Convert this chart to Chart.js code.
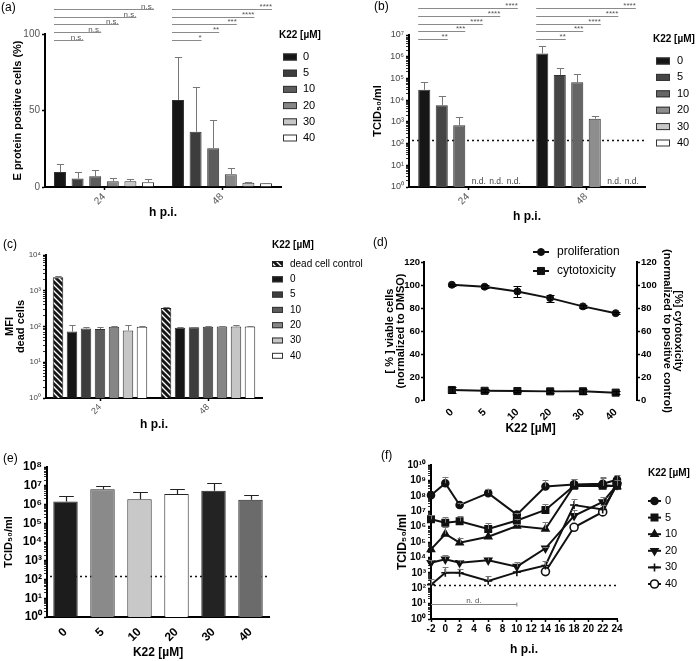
<!DOCTYPE html>
<html>
<head>
<meta charset="utf-8">
<script src="https://cdn.jsdelivr.net/npm/chart.js@4.4.1/dist/chart.umd.min.js"></script>
<style>
body { margin: 0; background: #fff; }
#wrap { position: relative; width: 696px; height: 661px; overflow: hidden; }
canvas { position: absolute; }
</style>
</head>
<body>
<div id="wrap">
<canvas id="ca" width="348" height="225" style="left:0;top:0"></canvas>
<canvas id="cb" width="348" height="225" style="left:348px;top:0"></canvas>
<canvas id="cc" width="370" height="215" style="left:0;top:225px"></canvas>
<canvas id="cd" width="348" height="215" style="left:348px;top:225px"></canvas>
<canvas id="ce" width="348" height="221" style="left:0;top:440px"></canvas>
<canvas id="cf" width="348" height="221" style="left:348px;top:440px"></canvas>
</div>
<script>
// categories
const doses = ['0', '5', '10', '20', '30', '40'];
const hpi = ['24', '48'];
const hours = [-2, 0, 2, 6, 10, 14, 18, 22, 24];
const hourTicks = [-2, 0, 2, 4, 6, 8, 10, 12, 14, 16, 18, 20, 22, 24];

// (a) E protein positive cells (%)
const ePos24 = [9.8, 5.5, 7.0, 3.7, 3.7, 3.1];
const ePos48 = [56.9, 36.1, 25.4, 8.3, 2.8, 2.4];
const ePosErr24 = [15.3, 9.8, 10.9, 6.1, 5.5, 5.0];
const ePosErr48 = [84.7, 65.2, 43.8, 12.7, 3.5, 2.8];
const sigA24 = ['n.s.', 'n.s.', 'n.s.', 'n.s.', 'n.s.'];
const sigA48 = ['*', '**', '***', '****', '****'];

// (b) TCID50/ml
const tcid24 = [3.0e4, 5.8e3, 7.0e2, null, null, null];
const tcid48 = [1.4e6, 1.45e5, 6.7e4, 1.4e3, null, null];
const tcidErr24 = [7.0e4, 1.5e4, 1.6e3, null, null, null];
const tcidErr48 = [3.2e6, 2.9e5, 1.55e5, 1.8e3, null, null];
const sigB24 = ['**', '***', '****', '****', '****'];
const sigB48 = ['**', '***', '****', '****', '****'];
const detectionLimit = 150;

// (c) MFI dead cells
const ctrlMfi = [2400, 330];
const ctrlMfiErr = [2650, 360];
const mfi24 = [72, 88, 85, 98, 77, 98];
const mfi48 = [93, 95, 98, 100, 100, 100];
const mfiErr24 = [112, 96, 95, 105, 110, 103];
const mfiErr48 = [97, 100, 103, 106, 107, 103];

// (d) viability / cytotoxicity
const prolif = [100.2, 98.5, 94.4, 88.6, 81.4, 75.5];
const prolifErr = [0.8, 1.2, 5.0, 3.0, 1.2, 1.0];
const cyto = [8.7, 8.0, 7.8, 7.5, 7.6, 6.4];
const cytoErr = [2.3, 1.2, 1.2, 1.2, 2.0, 1.2];

// (e) pre-treatment TCID50/ml
const tcidPre = [1.45e6, 6.6e6, 1.9e6, 3.6e6, 5.4e6, 1.8e6];
const tcidPreErr = [2.7e6, 9.6e6, 4.4e6, 6.6e6, 1.4e7, 3.3e6];

// (f) kinetics, TCID50/ml per dose
const kin0 = [1.1e8, 6.5e8, 2.5e7, 1.5e8, 6.0e6, 4.0e8, 5.5e8, 6.0e8, 1.1e9];
const kin5 = [3.0e6, 1.8e6, 2.2e6, 7.0e5, 2.5e6, 1.2e7, 4.5e8, 4.4e8, 4.5e8];
const kin10 = [3.3e4, 3.3e5, 9.0e4, 2.2e5, 1.1e6, 7.0e5, 4.5e8, 5.0e8, 4.0e8];
const kin20 = [4.5e3, 7.5e3, 4.5e3, 6.5e3, 2.5e3, 3.9e4, 5.0e6, 4.0e7, 5.0e8];
const kin30 = [170, 1.0e3, 1.0e3, 3.0e2, 1.1e3, 3.0e3, 2.5e7, 1.3e7, 5.0e8];
const kin40 = [null, null, null, null, null, 1.2e3, 9.0e5, 9.0e6, 6.0e8];
const kinErr0 = [null, 1.7e9, 3.2e7, 2.8e8, 7.5e6, 1.1e9, 1.3e9, 1.5e9, 2.4e9];
const kinErr5 = [6.0e6, 4.0e6, 5.0e6, 1.6e6, 3.0e6, 3.0e7, 1.2e9, 1.6e9, 1.0e9];
const kinErr10 = [null, 9.0e5, 1.7e5, null, 1.4e6, 2.0e6, null, null, null];
const kinErr20 = [7.0e3, 1.4e4, 7.0e3, 1.1e4, 5.0e3, 5.0e4, 1.2e7, 9.0e7, null];
const kinErr30 = [400, 2.5e3, 1.8e3, 6.0e2, null, 6.0e3, 6.0e7, 2.5e7, null];
const kinErr40 = [null, null, null, null, null, null, null, null, null];

Chart.defaults.font.family = "'Liberation Sans', Arial, sans-serif";
Chart.defaults.color = '#000';
Chart.defaults.animation = false;
Chart.defaults.plugins.legend.display = false;
Chart.defaults.plugins.tooltip.enabled = false;

const SUP = {'0': '⁰', '1': '¹', '2': '²', '3': '³', '4': '⁴', '5': '⁵', '6': '⁶', '7': '⁷', '8': '⁸', '9': '⁹'};
const isDecade = v => Math.abs(Math.log10(v) - Math.round(Math.log10(v))) < 1e-6;
const pow10Label = v => isDecade(v) ? '10' + String(Math.round(Math.log10(v))).split('').map(c => SUP[c]).join('') : '';
function logTicks(maxExp) {
  const t = [];
  for (let e = 0; e < maxExp; e++)
    for (let k = 1; k < 10; k++) t.push({value: k * Math.pow(10, e)});
  t.push({value: Math.pow(10, maxExp)});
  return t;
}

// error bars (upper, optional lower) drawn from dataset.errHi / errLo
const errorBars = {
  id: 'errorBars',
  afterDatasetsDraw(chart) {
    const ctx = chart.ctx;
    chart.data.datasets.forEach((ds, i) => {
      if (!ds.errHi) return;
      const meta = chart.getDatasetMeta(i);
      const ys = chart.scales[meta.yAxisID];
      ctx.save();
      ctx.strokeStyle = ds.errColor || '#000';
      ctx.lineWidth = ds.errWidth || 1;
      meta.data.forEach((el, j) => {
        const v = ds.data[j];
        const val = (v !== null && typeof v === 'object') ? v.y : v;
        if (val == null) return;
        const cap = el.width ? el.width * 0.3 : (ds.capHalf || 3);
        [ds.errHi[j], ds.errLo ? ds.errLo[j] : null].forEach(e => {
          if (e == null) return;
          const y = Math.round(ys.getPixelForValue(e)) + 0.5;
          const x = Math.round(el.x) + 0.5;
          ctx.beginPath();
          ctx.moveTo(x, el.y); ctx.lineTo(x, y);
          ctx.moveTo(x - cap, y); ctx.lineTo(x + cap, y);
          ctx.stroke();
        });
      });
      ctx.restore();
    });
  }
};

// dotted detection limit
const refLine = {
  id: 'refLine',
  beforeDatasetsDraw(chart, args, o) {
    if (!o || o.value == null) return;
    const ctx = chart.ctx, a = chart.chartArea;
    const y = Math.round(chart.scales.y.getPixelForValue(o.value)) + 0.5;
    ctx.save();
    ctx.strokeStyle = '#111';
    ctx.lineWidth = 1.5;
    ctx.setLineDash([2, 3]);
    ctx.beginPath(); ctx.moveTo(a.left + 3, y); ctx.lineTo(a.right, y); ctx.stroke();
    ctx.restore();
  }
};

// significance brackets from first bar of a group to bar k
const sigLines = {
  id: 'sigLines',
  afterDraw(chart, args, o) {
    if (!o || !o.sets) return;
    const ctx = chart.ctx;
    ctx.save();
    ctx.lineWidth = 1;
    ctx.font = '8px "Liberation Sans", Arial';
    ctx.textAlign = 'right';
    ctx.textBaseline = 'bottom';
    o.sets.forEach(set => {
      const first = chart.getDatasetMeta(0).data[set.group];
      const x0 = first.x - first.width / 2;
      set.labels.forEach((lab, k) => {
        const el = chart.getDatasetMeta(k + 1).data[set.group];
        const x1 = el.x + el.width / 2;
        const y = Math.round(o.y0 - k * o.step) + 0.5;
        ctx.strokeStyle = '#8a8a8a';
        ctx.beginPath(); ctx.moveTo(x0, y); ctx.lineTo(x1, y); ctx.stroke();
        ctx.fillStyle = '#555';
        ctx.fillText(lab, x1, y + 1);
      });
    });
    ctx.restore();
  }
};

// "n.d." under missing bars
const ndLabels = {
  id: 'ndLabels',
  afterDraw(chart, args, o) {
    if (!o || !o.text) return;
    const ctx = chart.ctx;
    ctx.save();
    ctx.font = '8.5px "Liberation Sans", Arial';
    ctx.fillStyle = '#444';
    ctx.textAlign = 'center';
    ctx.textBaseline = 'middle';
    chart.data.datasets.forEach((ds, i) => {
      const meta = chart.getDatasetMeta(i);
      ds.data.forEach((v, j) => {
        if (v != null) return;
        const el = meta.data[j];
        ctx.fillText(o.text, el.x + 2, chart.chartArea.bottom - 5);
      });
    });
    ctx.restore();
  }
};

// n.d. range bracket (panel f)
const ndRange = {
  id: 'ndRange',
  afterDraw(chart, args, o) {
    if (!o || o.from == null) return;
    const ctx = chart.ctx, xs = chart.scales.x, ys = chart.scales.y;
    const x0 = xs.getPixelForValue(o.from), x1 = xs.getPixelForValue(o.to);
    const y = Math.round(ys.getPixelForValue(o.value)) + 0.5;
    ctx.save();
    ctx.strokeStyle = '#888';
    ctx.lineWidth = 1;
    ctx.beginPath();
    ctx.moveTo(x0, y); ctx.lineTo(x1, y);
    ctx.moveTo(x1, y - 2); ctx.lineTo(x1, y + 2);
    ctx.stroke();
    ctx.fillStyle = '#555';
    ctx.font = '8px "Liberation Sans", Arial';
    ctx.textAlign = 'center';
    ctx.textBaseline = 'bottom';
    ctx.fillText(o.text, xs.getPixelForValue((o.from + o.to) / 2), y);
    ctx.restore();
  }
};

// legend at a fixed spot beside the plot
const sideLegend = {
  id: 'sideLegend',
  afterDraw(chart, args, o) {
    if (!o || o.x == null) return;
    const ctx = chart.ctx;
    ctx.save();
    ctx.textBaseline = 'middle';
    ctx.textAlign = 'left';
    ctx.fillStyle = '#000';
    if (o.title) {
      ctx.font = o.titleFont;
      ctx.fillText(o.title, o.titleX != null ? o.titleX : o.x, o.titleY);
    }
    ctx.font = o.font;
    chart.data.datasets.forEach((ds, i) => {
      const y = o.y + i * o.step;
      if (o.kind === 'line') {
        ctx.strokeStyle = '#111';
        ctx.lineWidth = 2;
        ctx.beginPath(); ctx.moveTo(o.x, y); ctx.lineTo(o.x + o.w, y); ctx.stroke();
        ctx.fillStyle = ds.pointBackgroundColor;
        ctx.strokeStyle = ds.pointBorderColor;
        ctx.lineWidth = ds.pointBorderWidth;
        Chart.helpers.drawPoint(ctx, {pointStyle: ds.pointStyle, rotation: ds.pointRotation || 0,
          radius: ds.pointRadius, borderWidth: ds.pointBorderWidth}, o.x + o.w / 2, y);
      } else {
        ctx.fillStyle = ds.backgroundColor;
        ctx.fillRect(o.x, y - o.h / 2, o.w, o.h);
        ctx.strokeStyle = ds.borderColor;
        ctx.lineWidth = 1;
        ctx.strokeRect(o.x + 0.5, y - o.h / 2 + 0.5, o.w - 1, o.h - 1);
      }
      ctx.fillStyle = '#000';
      ctx.fillText(ds.label, o.textX, y);
    });
    ctx.restore();
  }
};

// panel letter
const tag = {
  id: 'tag',
  afterDraw(chart, args, o) {
    if (!o || !o.text) return;
    const ctx = chart.ctx;
    ctx.save();
    ctx.font = '12px "Liberation Sans", Arial';
    ctx.fillStyle = '#000';
    ctx.textBaseline = 'middle';
    ctx.fillText(o.text, o.x, o.y);
    ctx.restore();
  }
};

Chart.register(errorBars, refLine, sigLines, ndLabels, ndRange, sideLegend, tag);

function axisBase(extra) {
  return Object.assign({
    grid: {drawOnChartArea: false, tickLength: 3, tickColor: '#000', tickWidth: 1.5},
    border: {color: '#000', width: 2}
  }, extra);
}
function yLog(maxExp, w, tickFont, tickColor, title) {
  return {
    type: 'logarithmic', min: 1, max: Math.pow(10, maxExp),
    afterBuildTicks: s => { s.ticks = logTicks(maxExp); },
    afterFit: s => { s.width = w; },
    ticks: {autoSkip: false, callback: v => pow10Label(v), font: tickFont, color: tickColor, padding: 2},
    grid: {drawOnChartArea: false, tickLength: 3, tickColor: '#000',
      tickWidth: c => (c.tick && isDecade(c.tick.value)) ? 1.5 : 0.8},
    border: {color: '#000', width: 2},
    title: title
  };
}

const grayA = ['#161616', '#3d3d3d', '#5c5c5c', '#868686', '#c6c6c6', '#ffffff'];
const grayB = ['#161616', '#454545', '#666666', '#8e8e8e', '#c8c8c8', '#ffffff'];
const bold = s => ({size: s, weight: 'bold'});

// ---------- (a)
new Chart('ca', {
  type: 'bar',
  data: {
    labels: hpi,
    datasets: doses.map((d, i) => ({
      label: d, data: [ePos24[i], ePos48[i]], errHi: [ePosErr24[i], ePosErr48[i]],
      backgroundColor: grayA[i], borderColor: '#333', borderWidth: 1, errColor: '#777',
      categoryPercentage: 0.895, barPercentage: 0.68
    }))
  },
  options: {
    responsive: false,
    layout: {padding: {left: 0, right: 67, top: 34, bottom: 0}},
    plugins: {
      tag: {text: '(a)', x: 1, y: 8},
      sigLines: {y0: 40, step: 7.8, sets: [{group: 0, labels: sigA24}, {group: 1, labels: sigA48}]},
      sideLegend: {x: 283, y: 57, step: 16.2, w: 14, h: 7, textX: 303, title: 'K22 [µM]', titleX: 279, titleY: 35,
        titleFont: 'bold 10px "Liberation Sans", Arial', font: '11px "Liberation Sans", Arial'}
    },
    scales: {
      x: axisBase({
        afterFit: s => { s.height = 38; },
        grid: {offset: false, drawOnChartArea: false, tickLength: 3, tickColor: '#000', tickWidth: 1.5},
        ticks: {minRotation: 45, maxRotation: 45, font: {size: 10}, color: '#555', padding: 1},
        title: {display: true, text: 'h p.i.', font: bold(12), padding: {top: 0, bottom: 5}}
      }),
      y: axisBase({
        min: 0, max: 100,
        afterBuildTicks: s => { s.ticks = [0, 50, 100].map(v => ({value: v})); },
        afterFit: s => { s.width = 45; },
        ticks: {font: {size: 10}, color: '#555', padding: 2},
        title: {display: true, text: 'E protein positive cells (%)', font: bold(11), padding: {top: 11, bottom: 0}}
      })
    }
  }
});

// ---------- (b)
new Chart('cb', {
  type: 'bar',
  data: {
    labels: hpi,
    datasets: doses.map((d, i) => ({
      label: d, data: [tcid24[i], tcid48[i]], errHi: [tcidErr24[i], tcidErr48[i]],
      backgroundColor: grayB[i], borderColor: '#333', borderWidth: 1, errColor: '#777',
      categoryPercentage: 0.89, barPercentage: 0.69
    }))
  },
  options: {
    responsive: false,
    layout: {padding: {left: 0, right: 51, top: 35, bottom: 0}},
    plugins: {
      tag: {text: '(b)', x: 26, y: 7},
      refLine: {value: detectionLimit},
      ndLabels: {text: 'n.d.'},
      sigLines: {y0: 39, step: 7.75, sets: [{group: 0, labels: sigB24}, {group: 1, labels: sigB48}]},
      sideLegend: {x: 308, y: 61, step: 16.4, w: 14, h: 7, textX: 329, title: 'K22 [µM]', titleX: 305, titleY: 39,
        titleFont: 'bold 10px "Liberation Sans", Arial', font: '11px "Liberation Sans", Arial'}
    },
    scales: {
      x: axisBase({
        afterFit: s => { s.height = 38; },
        grid: {offset: false, drawOnChartArea: false, tickLength: 3, tickColor: '#000', tickWidth: 1.5},
        ticks: {minRotation: 45, maxRotation: 45, font: {size: 10}, color: '#555', padding: 1},
        title: {display: true, text: 'h p.i.', font: bold(12), padding: {top: 0, bottom: 1}}
      }),
      y: yLog(7, 61, {size: 9}, '#444',
        {display: true, text: 'TCID₅₀/ml', font: bold(11), padding: {top: 23, bottom: 0}})
    }
  }
});

// ---------- (c)
const hatchTile = document.createElement('canvas');
hatchTile.width = hatchTile.height = 6;
(g => {
  g.fillStyle = '#161616'; g.fillRect(0, 0, 6, 6);
  g.strokeStyle = '#fff'; g.lineWidth = 1.3;
  g.beginPath();
  g.moveTo(0, 0); g.lineTo(6, 6);
  g.moveTo(-3, 3); g.lineTo(3, 9);
  g.moveTo(3, -3); g.lineTo(9, 3);
  g.stroke();
})(hatchTile.getContext('2d'));
const hatch = document.getElementById('cc').getContext('2d').createPattern(hatchTile, 'repeat');

new Chart('cc', {
  type: 'bar',
  data: {
    labels: hpi,
    datasets: [{
      label: 'dead cell control', data: ctrlMfi, errHi: ctrlMfiErr,
      backgroundColor: hatch, borderColor: '#222', borderWidth: 1, errColor: '#777',
      categoryPercentage: 0.907, barPercentage: 0.75
    }].concat(doses.map((d, i) => ({
      label: d, data: [mfi24[i], mfi48[i]], errHi: [mfiErr24[i], mfiErr48[i]],
      backgroundColor: grayA[i], borderColor: '#333', borderWidth: 1, errColor: '#777',
      categoryPercentage: 0.907, barPercentage: 0.75
    })))
  },
  options: {
    responsive: false,
    layout: {padding: {left: 0, right: 108, top: 30, bottom: 0}},
    plugins: {
      tag: {text: '(c)', x: 3, y: 20},
      sideLegend: {x: 272, y: 39, step: 15.3, w: 11, h: 6, textX: 290, title: 'K22 [µM]', titleY: 20,
        titleFont: 'bold 10px "Liberation Sans", Arial', font: '10px "Liberation Sans", Arial'}
    },
    scales: {
      x: axisBase({
        afterFit: s => { s.height = 42; },
        grid: {offset: false, drawOnChartArea: false, tickLength: 3, tickColor: '#000', tickWidth: 1.5},
        ticks: {minRotation: 45, maxRotation: 45, font: {size: 9}, color: '#555', padding: 1},
        title: {display: true, text: 'h p.i.', font: bold(12), padding: {top: 0, bottom: 8}}
      }),
      y: yLog(4, 46, {size: 8}, '#444',
        {display: true, text: ['MFI', 'dead cells'], font: {size: 11, weight: 'bold', lineHeight: 1.0}, padding: {top: 4, bottom: 0}})
    }
  }
});

// ---------- (d)
new Chart('cd', {
  type: 'line',
  data: {
    datasets: [{
      label: 'proliferation', data: prolif.map((v, i) => ({x: i, y: v})),
      errHi: prolif.map((v, i) => v + prolifErr[i]), errLo: prolif.map((v, i) => v - prolifErr[i]), capHalf: 4,
      borderColor: '#111', borderWidth: 2, pointStyle: 'circle', pointRadius: 3.5,
      pointBackgroundColor: '#111', pointBorderColor: '#111', pointBorderWidth: 1, clip: false
    }, {
      label: 'cytotoxicity', data: cyto.map((v, i) => ({x: i, y: v})),
      errHi: cyto.map((v, i) => v + cytoErr[i]), errLo: cyto.map((v, i) => v - cytoErr[i]), capHalf: 4,
      borderColor: '#111', borderWidth: 2, pointStyle: 'rect', pointRadius: 5,
      pointBackgroundColor: '#111', pointBorderColor: '#111', pointBorderWidth: 1, clip: false
    }]
  },
  options: {
    responsive: false,
    layout: {padding: {left: 0, right: 0, top: 37, bottom: 0}},
    plugins: {
      tag: {text: '(d)', x: 25, y: 18},
      sideLegend: {kind: 'line', x: 185, y: 27, step: 19, w: 16, textX: 209,
        font: '12px "Liberation Sans", Arial'}
    },
    scales: {
      x: {
        type: 'linear', min: -0.85, max: 5.65,
        afterBuildTicks: s => { s.ticks = doses.map((d, i) => ({value: i})); },
        afterFit: s => { s.height = 40; },
        grid: {display: false, drawTicks: false},
        border: {display: false},
        ticks: {autoSkip: false, minRotation: 45, maxRotation: 45, font: bold(10.5), padding: 6, callback: v => doses[v]},
        title: {display: true, text: 'K22 [µM]', font: bold(12), padding: {top: 0, bottom: 4}}
      },
      y: axisBase({
        min: 0, max: 120,
        afterBuildTicks: s => { s.ticks = [0, 20, 40, 60, 80, 100, 120].map(v => ({value: v})); },
        afterFit: s => { s.width = 76; },
        ticks: {font: bold(9.5), padding: 1},
        title: {display: true, text: ['[ % ] viable cells', '(normalized to DMSO)'],
          font: {size: 11, weight: 'bold', lineHeight: 1.05}, padding: {top: 36, bottom: 0}}
      }),
      y1: axisBase({
        position: 'right', min: 0, max: 120,
        afterBuildTicks: s => { s.ticks = [0, 20, 40, 60, 80, 100, 120].map(v => ({value: v})); },
        afterFit: s => { s.width = 59; },
        ticks: {font: bold(9.5), padding: 1},
        title: {display: true, text: ['[%] cytotoxicity', '(normalized to positive control)'],
          font: {size: 11, weight: 'bold', lineHeight: 1.05}, padding: {top: 12, bottom: 0}}
      })
    }
  }
});

// ---------- (e)
const preColors = ['#1c1c1c', '#8a8a8a', '#c8c8c8', '#ffffff', '#232323', '#6b6b6b'];
new Chart('ce', {
  type: 'bar',
  data: {
    labels: doses,
    datasets: [{
      label: 'TCID50/ml', data: tcidPre, errHi: tcidPreErr,
      backgroundColor: preColors, borderColor: '#222', borderWidth: 1, errColor: '#222', errWidth: 1.2,
      categoryPercentage: 1, barPercentage: 0.66
    }]
  },
  options: {
    responsive: false,
    layout: {padding: {left: 0, right: 79, top: 27, bottom: 0}},
    plugins: {
      tag: {text: '(e)', x: 3, y: 19},
      refLine: {value: detectionLimit}
    },
    scales: {
      x: axisBase({
        afterFit: s => { s.height = 44; },
        grid: {display: false, drawTicks: false},
        ticks: {minRotation: 45, maxRotation: 45, font: bold(12), padding: 8},
        title: {display: true, text: 'K22 [µM]', font: bold(12), padding: {top: 0, bottom: 1}}
      }),
      y: yLog(8, 47, bold(12), '#000',
        {display: true, text: 'TCID₅₀/ml', font: bold(11), padding: {top: 2, bottom: 0}})
    }
  }
});

// ---------- (f)
const kinSeries = [kin0, kin5, kin10, kin20, kin30, kin40];
const kinErrs = [kinErr0, kinErr5, kinErr10, kinErr20, kinErr30, kinErr40];
const kinMarks = [
  {s: 'circle', r: 3.5, f: '#111', rot: 0},
  {s: 'rect', r: 4.5, f: '#111', rot: 0},
  {s: 'triangle', r: 4, f: '#111', rot: 0},
  {s: 'triangle', r: 4, f: '#111', rot: 180},
  {s: 'cross', r: 4, f: '#111', rot: 0},
  {s: 'circle', r: 4, f: '#fff', rot: 0}
];
new Chart('cf', {
  type: 'line',
  data: {
    datasets: doses.map((d, i) => ({
      label: d, data: hours.map((h, j) => ({x: h, y: kinSeries[i][j]})), errHi: kinErrs[i],
      errColor: '#777', capHalf: 3,
      borderColor: '#111', borderWidth: 2, pointStyle: kinMarks[i].s, pointRadius: kinMarks[i].r,
      pointRotation: kinMarks[i].rot, pointBackgroundColor: kinMarks[i].f, pointBorderColor: '#111',
      pointBorderWidth: 1.6, clip: false
    }))
  },
  options: {
    responsive: false,
    layout: {padding: {left: 0, right: 79, top: 25, bottom: 0}},
    plugins: {
      tag: {text: '(f)', x: 33, y: 16},
      refLine: {value: detectionLimit},
      ndRange: {from: -2, to: 10, value: 10, text: 'n. d.'},
      sideLegend: {kind: 'line', x: 300, y: 61, step: 16.6, w: 13, textX: 317, title: 'K22 [µM]', titleY: 33,
        titleFont: 'bold 10px "Liberation Sans", Arial', font: '11px "Liberation Sans", Arial'}
    },
    scales: {
      x: axisBase({
        type: 'linear', min: -2, max: 24,
        afterBuildTicks: s => { s.ticks = hourTicks.map(v => ({value: v})); },
        afterFit: s => { s.height = 42; },
        ticks: {autoSkip: false, font: bold(10), padding: 1, maxRotation: 0},
        title: {display: true, text: 'h p.i.', font: bold(12), padding: {top: 0, bottom: 4}}
      }),
      y: yLog(10, 83, bold(10), '#000',
        {display: true, text: 'TCID₅₀/ml', font: bold(12), padding: {top: 47, bottom: 0}})
    }
  }
});
</script>
</body>
</html>
